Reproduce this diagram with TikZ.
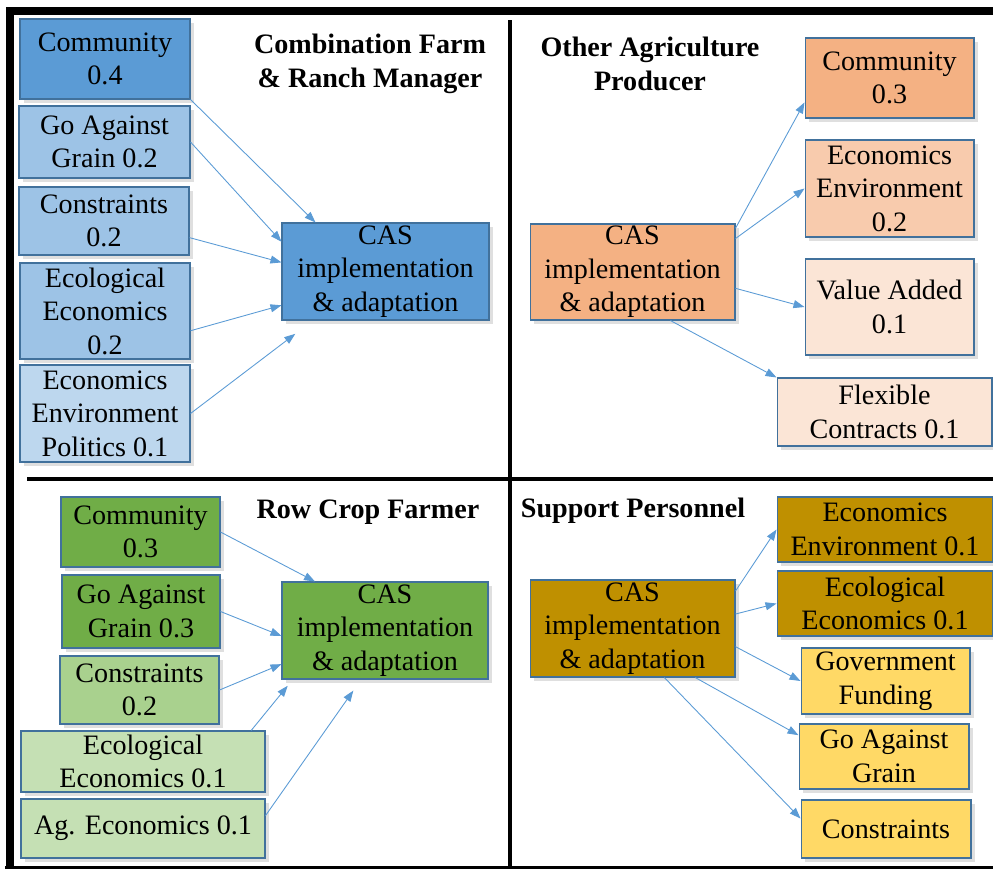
\documentclass[tikz,border=0pt]{standalone}
\usepackage{fontspec}
\setmainfont{Liberation Serif}
\usepackage{xcolor}
\usepackage{tikz}
\usetikzlibrary{arrows.meta, shadows}

\definecolor{edge}{HTML}{41719C}
\definecolor{arrowc}{HTML}{5B9BD5}
\definecolor{blueA}{HTML}{5B9BD5}
\definecolor{blueB}{HTML}{9DC3E6}
\definecolor{blueC}{HTML}{BDD7EE}
\definecolor{orangeA}{HTML}{F4B183}
\definecolor{orangeB}{HTML}{F8CBAD}
\definecolor{orangeC}{HTML}{FBE5D6}
\definecolor{greenA}{HTML}{70AD47}
\definecolor{greenB}{HTML}{A9D18E}
\definecolor{greenC}{HTML}{C5E0B4}
\definecolor{goldA}{HTML}{BF9000}
\definecolor{goldB}{HTML}{FFD966}

\begin{document}
\begin{tikzpicture}[x=0.02cm, y=-0.02cm,
  box/.style={draw=edge, line width=0.6pt, inner sep=0pt, align=center,
    font=\fontsize{16}{19.1}\selectfont,
    drop shadow={shadow xshift=2.5pt, shadow yshift=-2.5pt, opacity=0.25}},
  ttl/.style={align=center, font=\fontsize{16}{19.3}\selectfont\bfseries},
  link/.style={-{Triangle[length=0.22cm, width=0.16cm]}, draw=arrowc, line width=0.5pt},
  frame/.style={line width=0.16cm, black},
  divider/.style={line width=0.08cm, black}]
\useasboundingbox (0,0) rectangle (993,869);
%
\draw[frame] (6,11) -- (993,11);
\draw[frame] (10,7) -- (10,869);
\draw[line width=0.07cm] (5,867.5) -- (993,867.5);
\draw[divider] (509.5,20) -- (509.5,869);
\draw[divider] (27,479) -- (993,479);
%
% Combination Farm & Ranch Manager
\node[ttl](tA) at (370,64) {Combination Farm\\\& Ranch Manager};
\node[box, fill=blueA, minimum width=3.4cm, minimum height=1.6cm](comA) at (105,59) {Community\\0.4};
\node[box, fill=blueB, minimum width=3.42cm, minimum height=1.44cm](goA) at (104.5,142) {Go Against\\Grain 0.2};
\node[box, fill=blueB, minimum width=3.4cm, minimum height=1.36cm](conA) at (104,221) {Constraints\\0.2};
\node[box, fill=blueB, minimum width=3.4cm, minimum height=1.92cm](ecoA) at (105,311) {Ecological\\Economics\\0.2};
\node[box, fill=blueC, minimum width=3.4cm, minimum height=1.94cm](eepA) at (105,413.5) {Economics\\Environment\\Politics 0.1};
\node[box, fill=blueA, minimum width=4.14cm, minimum height=1.94cm](casA) at (385.5,271.5) {CAS\\implementation\\\& adaptation};
%
\draw[link](comA.south east) -- (casA.145);
\draw[link](goA.east) -- (casA.164);
\draw[link](conA.-11) -- (casA.175);
\draw[link](ecoA.-13) -- (casA.198);
\draw[link, shorten >=0.44cm](eepA.east) -- (casA.214);
%
% Other Agriculture Producer
\node[ttl](tB) at (650,64) {Other Agriculture\\Producer};
\node[box, fill=orangeA, minimum width=4.1cm, minimum height=1.92cm](casB) at (632.5,272) {CAS\\implementation\\\& adaptation};
\node[box, fill=orangeA, minimum width=3.38cm, minimum height=1.6cm](comB) at (889.5,78) {Community\\0.3};
\node[box, fill=orangeB, minimum width=3.38cm, minimum height=1.94cm](eenB) at (889.5,188.5) {Economics\\Environment\\0.2};
\node[box, fill=orangeC, minimum width=3.38cm, minimum height=1.92cm](valB) at (889.5,307) {Value Added\\0.1};
\node[box, fill=orangeC, minimum width=4.3cm, minimum height=1.36cm](flxB) at (884.5,412) {Flexible\\Contracts 0.1};
%
\draw[link](casB.23) -- (comB.196);
\draw[link](casB.18) -- (eenB.west);
\draw[link](casB.-9) -- (valB.west);
\draw[link](casB.-52) -- (flxB.north west);
%
% Row Crop Farmer
\node[ttl](tC) at (368,512) {Row Crop Farmer};
\node[box, fill=greenA, minimum width=3.18cm, minimum height=1.4cm](comC) at (140.5,532) {Community\\0.3};
\node[box, fill=greenA, minimum width=3.16cm, minimum height=1.46cm](goC) at (141,611.5) {Go Against\\Grain 0.3};
\node[box, fill=greenB, minimum width=3.18cm, minimum height=1.36cm](conC) at (139.5,690) {Constraints\\0.2};
\node[box, fill=greenC, minimum width=4.88cm, minimum height=1.22cm](ecoC) at (143,761.5) {Ecological\\Economics 0.1};
\node[box, fill=greenC, minimum width=4.88cm, minimum height=1.18cm](agC) at (143,828.5) {Ag. Economics 0.1};
\node[box, fill=greenA, minimum width=4.12cm, minimum height=1.94cm](casC) at (385,630.5) {CAS\\implementation\\\& adaptation};
%
\draw[link](comC.east) -- (casC.145);
\draw[link](goC.east) -- (casC.183);
\draw[link](conC.east) -- (casC.198);
\draw[link, shorten >=0.16cm](ecoC.16) -- (casC.208);
\draw[link, shorten >=0.27cm](agC.6) -- (casC.244);
%
% Support Personnel
\node[ttl](tD) at (633,511) {Support Personnel};
\node[box, fill=goldA, minimum width=4.1cm, minimum height=1.94cm](casD) at (632.5,628.5) {CAS\\implementation\\\& adaptation};
\node[box, fill=goldA, minimum width=4.32cm, minimum height=1.3cm](eenD) at (885,529.5) {Economics\\Environment 0.1};
\node[box, fill=goldA, minimum width=4.32cm, minimum height=1.3cm](ecoD) at (885,603.5) {Ecological\\Economics 0.1};
\node[box, fill=goldB, minimum width=3.38cm, minimum height=1.32cm](govD) at (885.5,681) {Government\\Funding};
\node[box, fill=goldB, minimum width=3.4cm, minimum height=1.3cm](goD) at (884,756.5) {Go Against\\Grain};
\node[box, fill=goldB, minimum width=3.4cm, minimum height=1.16cm](cstD) at (886,829) {Constraints};
%
\draw[link](casD.20) -- (eenD.west);
\draw[link](casD.8) -- (ecoD.west);
\draw[link](casD.-10) -- (govD.west);
\draw[link](casD.-38) -- (goD.166);
\draw[link](casD.-57) -- (cstD.173);
\end{tikzpicture}
\end{document}
